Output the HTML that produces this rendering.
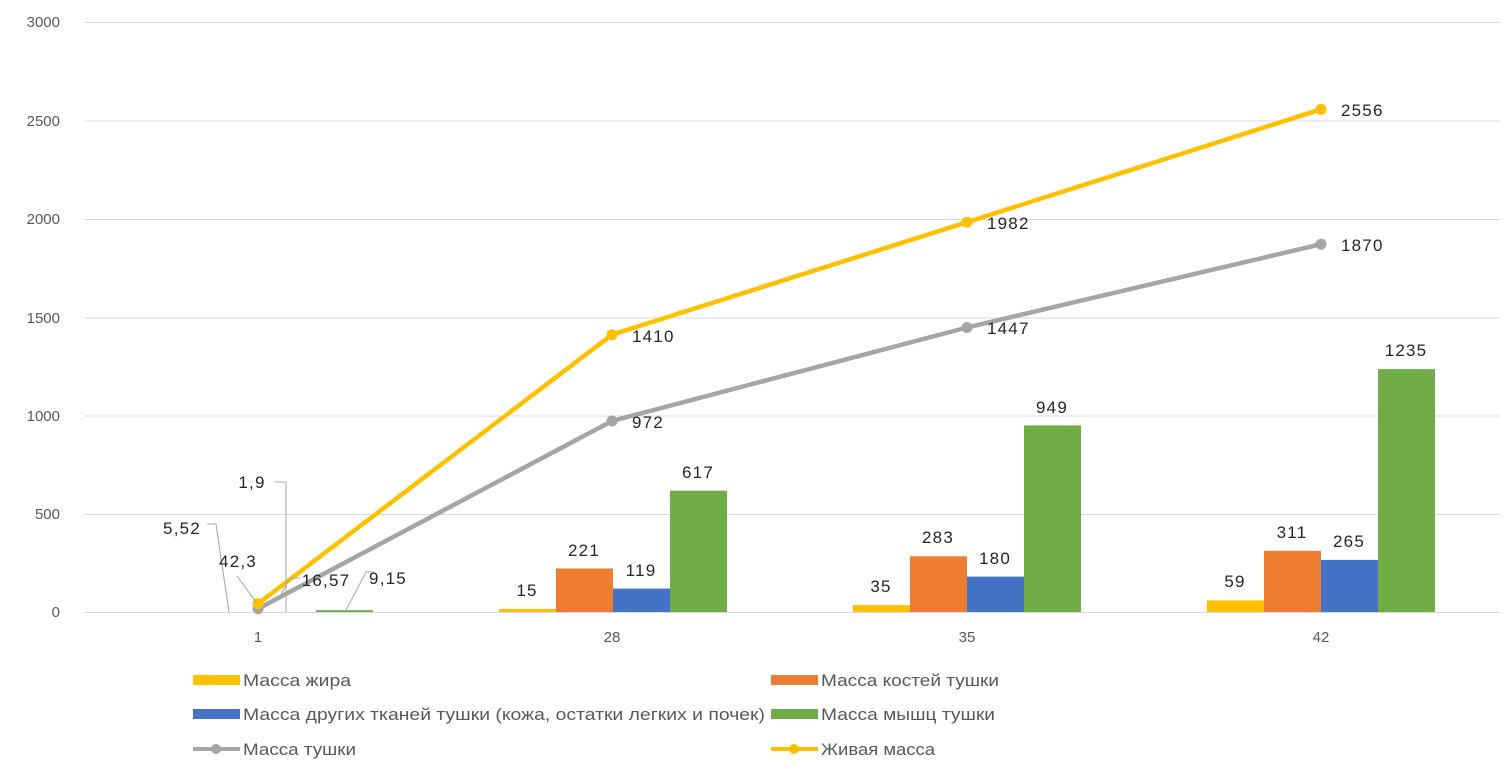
<!DOCTYPE html><html><head><meta charset="utf-8"><style>body{margin:0;background:#fff}svg{display:block;font-family:"Liberation Sans","DejaVu Sans",sans-serif}</style></head><body>
<svg width="1510" height="774" viewBox="0 0 1510 774">
<g stroke="#d9d9d9" stroke-width="1">
<line x1="85" x2="1500" y1="22.5" y2="22.5"/><line x1="85" x2="1500" y1="121" y2="121"/><line x1="85" x2="1500" y1="219.5" y2="219.5"/><line x1="85" x2="1500" y1="318" y2="318"/><line x1="85" x2="1500" y1="416" y2="416"/><line x1="85" x2="1500" y1="514.5" y2="514.5"/><line x1="85" x2="1500" y1="612.5" y2="612.5"/>
</g>
<g fill="#595959" font-size="15" text-anchor="end">
<text x="60" y="27">3000</text><text x="60" y="126">2500</text><text x="60" y="224">2000</text><text x="60" y="323">1500</text><text x="60" y="421">1000</text><text x="60" y="519">500</text><text x="60" y="617">0</text>
</g>
<g fill="#595959" font-size="15" text-anchor="middle">
<text x="258" y="642">1</text><text x="612" y="642">28</text><text x="967" y="642">35</text><text x="1321" y="642">42</text>
</g>
<rect x="316" y="610.2" width="57" height="1.8" fill="#70ad47"/>
<rect x="499" y="609" width="57" height="3" fill="#ffc000"/><rect x="556" y="568.5" width="57" height="43.5" fill="#ed7d31"/><rect x="613" y="588.6" width="57" height="23.4" fill="#4472c4"/><rect x="670" y="490.7" width="57" height="121.3" fill="#70ad47"/>
<rect x="853" y="605.1" width="57" height="6.9" fill="#ffc000"/><rect x="910" y="556.3" width="57" height="55.7" fill="#ed7d31"/><rect x="967" y="576.6" width="57" height="35.4" fill="#4472c4"/><rect x="1024" y="425.4" width="57" height="186.6" fill="#70ad47"/>
<rect x="1207" y="600.4" width="57" height="11.6" fill="#ffc000"/><rect x="1264" y="550.8" width="57" height="61.2" fill="#ed7d31"/><rect x="1321" y="559.9" width="57" height="52.1" fill="#4472c4"/><rect x="1378" y="369.1" width="57" height="242.9" fill="#70ad47"/>
<polyline points="258,608.7 612,421 967,327.5 1321,244.2" fill="none" stroke="#a5a5a5" stroke-width="4.5"/>
<g fill="#a5a5a5"><circle cx="258" cy="608.7" r="5.5"/><circle cx="612" cy="421" r="5.5"/><circle cx="967" cy="327.5" r="5.5"/><circle cx="1321" cy="244.2" r="5.5"/></g>
<polyline points="258,603.7 612,334.7 967,222.2 1321,109.3" fill="none" stroke="#ffc000" stroke-width="4.5"/>
<g fill="#ffc000"><circle cx="258" cy="603.7" r="5.5"/><circle cx="612" cy="334.7" r="5.5"/><circle cx="967" cy="222.2" r="5.5"/><circle cx="1321" cy="109.3" r="5.5"/></g>
<g stroke="#a6a6a6" fill="none" stroke-width="1">
<polyline points="207,524 216,524 229,612"/><polyline points="275,482 286,482 286,612"/><polyline points="237,576 256,602"/><polyline points="278,600 290,578 300,578"/><polyline points="346,610 366,572 374,572"/>
</g>
<g fill="#262626" font-size="17" letter-spacing="1.2" text-anchor="middle">
<text x="182" y="534">5,52</text><text x="252" y="488">1,9</text><text x="238" y="567">42,3</text><text x="326" y="586">16,57</text><text x="388" y="584">9,15</text>
<text x="527" y="596">15</text><text x="584" y="556">221</text><text x="641" y="576">119</text><text x="698" y="478">617</text>
<text x="881" y="592">35</text><text x="938" y="543">283</text><text x="995" y="564">180</text><text x="1052" y="413">949</text>
<text x="1235" y="587">59</text><text x="1292" y="538">311</text><text x="1349" y="547">265</text><text x="1406" y="356">1235</text>
</g>
<g fill="#262626" font-size="17" letter-spacing="1.2">
<text x="632" y="342">1410</text><text x="632" y="428">972</text><text x="987" y="229">1982</text><text x="987" y="334">1447</text><text x="1341" y="116">2556</text><text x="1341" y="251">1870</text>
</g>
<rect x="193" y="675" width="47" height="10" fill="#ffc000"/><rect x="771" y="675" width="47" height="10" fill="#ed7d31"/>
<rect x="193" y="709" width="47" height="10" fill="#4472c4"/><rect x="771" y="709" width="47" height="10" fill="#70ad47"/>
<line x1="193" x2="240" y1="749" y2="749" stroke="#a5a5a5" stroke-width="4"/><circle cx="216" cy="749" r="5" fill="#a5a5a5"/>
<line x1="771" x2="818" y1="749" y2="749" stroke="#ffc000" stroke-width="4"/><circle cx="794" cy="749" r="5" fill="#ffc000"/>
<g fill="#595959" font-size="17">
<text x="243" y="686" textLength="108" lengthAdjust="spacingAndGlyphs">Масса жира</text><text x="821" y="686" textLength="178" lengthAdjust="spacingAndGlyphs">Масса костей тушки</text>
<text x="243" y="720" textLength="522" lengthAdjust="spacingAndGlyphs">Масса других тканей тушки (кожа, остатки легких и почек)</text><text x="821" y="720" textLength="174" lengthAdjust="spacingAndGlyphs">Масса мышц тушки</text>
<text x="243" y="755" textLength="113" lengthAdjust="spacingAndGlyphs">Масса тушки</text><text x="821" y="755" textLength="114" lengthAdjust="spacingAndGlyphs">Живая масса</text>
</g>
</svg></body></html>
